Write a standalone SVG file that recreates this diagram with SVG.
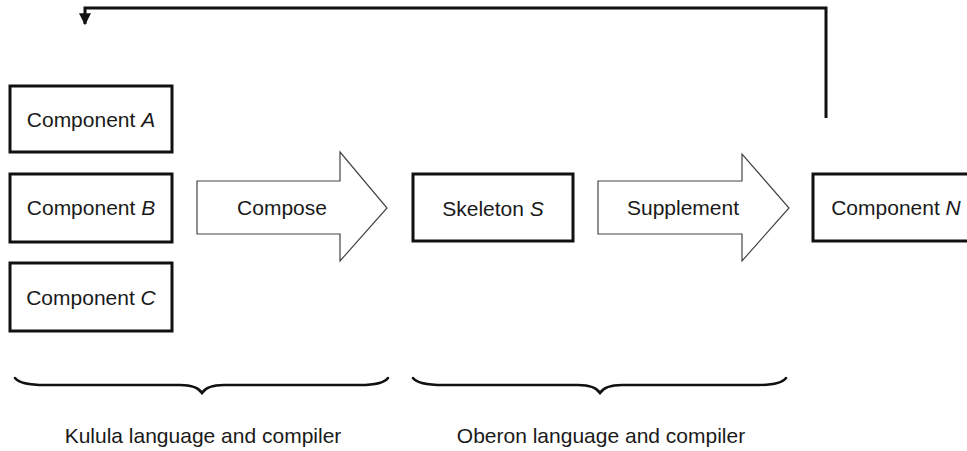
<svg xmlns="http://www.w3.org/2000/svg" width="967" height="451" viewBox="0 0 967 451">
<defs>
<style>
text{font-family:"Liberation Sans",Arial,sans-serif;font-size:21px;fill:#1a1a1a;text-anchor:middle}
.box{fill:#fff;stroke:#111;stroke-width:3}
.big{fill:#fff;stroke:#444;stroke-width:1.2;stroke-linejoin:miter}
.wire{fill:none;stroke:#111;stroke-width:3}
.brace{fill:none;stroke:#111;stroke-width:2.5;stroke-linecap:round}
</style>
<marker id="ah" viewBox="0 0 10 10" refX="9" refY="5" markerWidth="4" markerHeight="4" orient="auto" markerUnits="strokeWidth">
<path d="M0,0 L10,5 L0,10 Z" fill="#111"/>
</marker>
</defs>
<g id="connectors">
<path class="wire" d="M826,118 V8 H85 V24" marker-end="url(#ah)"/>
</g>
<g id="compA"><rect class="box" x="10" y="86" width="162" height="66"/><text x="91" y="127">Component <tspan font-style="italic">A</tspan></text></g>
<g id="compB"><rect class="box" x="10" y="174" width="162" height="68"/><text x="91" y="215">Component <tspan font-style="italic">B</tspan></text></g>
<g id="compC"><rect class="box" x="10" y="263" width="162" height="68"/><text x="91" y="305">Component <tspan font-style="italic">C</tspan></text></g>
<g id="compose"><path class="big" d="M197,181 H340 V152 L387,208 L340,261 V234 H197 Z"/><text x="282" y="215">Compose</text></g>
<g id="skeleton"><rect class="box" x="413" y="174" width="160" height="67"/><text x="493" y="216">Skeleton <tspan font-style="italic">S</tspan></text></g>
<g id="supplement"><path class="big" d="M598,181 H742 V154 L789,208 L742,261 V234 H598 Z"/><text x="683" y="215">Supplement</text></g>
<g id="compN"><rect class="box" x="813" y="174" width="170" height="67"/><text x="896" y="215">Component <tspan font-style="italic">N</tspan></text></g>
<g id="kulula"><path class="brace" d="M15,378 Q20,385 45,385 H180 Q197,385 202,393 Q207,385 224,385 H360 Q383,385 388,378"/><text x="203" y="443">Kulula language and compiler</text></g>
<g id="oberon"><path class="brace" d="M413,378 Q418,385 443,385 H578 Q595,385 600,393 Q605,385 622,385 H758 Q781,385 786,378"/><text x="601" y="443">Oberon language and compiler</text></g>
</svg>
